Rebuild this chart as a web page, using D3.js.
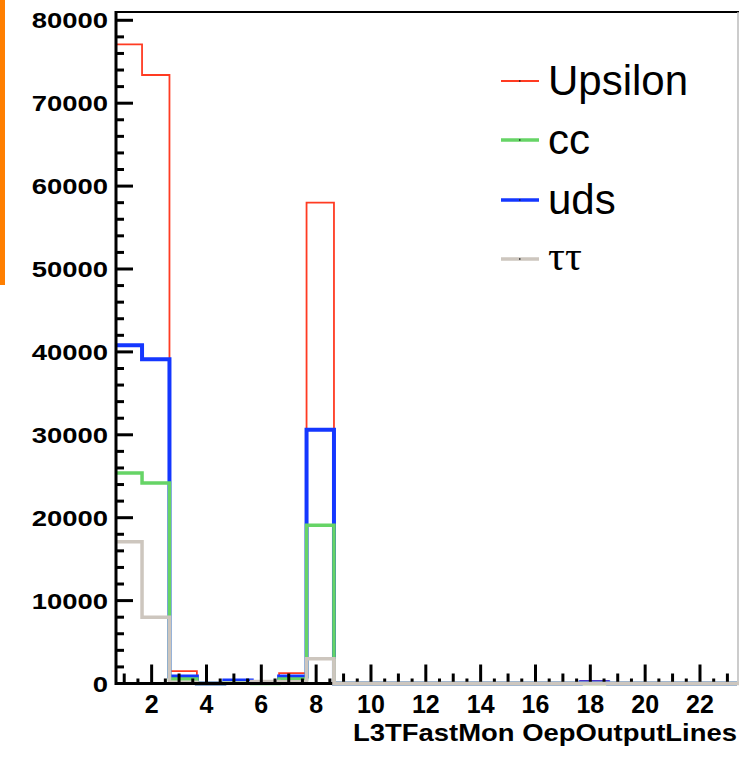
<!DOCTYPE html>
<html>
<head>
    <meta charset="utf-8">
    <style>
        body { margin: 0; background: #fff; }
        text { font-family: "Liberation Sans", Arial, sans-serif; }
    </style>
</head>
<body>
    <svg width="739" height="759"></svg>
    <script src="https://d3js.org/d3.v7.min.js"></script>
    <script>
        // bin contents, one value per unit-wide bin starting at the left edge of the axis
        let upsilon = [77100, 73400, 1500, 0, 400, 200, 1250, 58000, 0, 0, 0, 0, 0, 0, 0, 0, 0, 300, 0, 0, 0, 0, 0];
        let uds     = [40800, 39100, 850, 0, 350, 100, 850, 30600, 0, 0, 0, 0, 0, 0, 0, 0, 0, 150, 0, 0, 0, 0, 0];
        let cc      = [25400, 24200, 550, 0, 100, 0, 550, 19100, 0, 0, 0, 0, 0, 0, 0, 0, 0, 0, 0, 0, 0, 0, 0];
        let tautau  = [17100, 8000, 150, 0, 50, 250, 200, 3000, 0, 0, 0, 0, 0, 0, 0, 0, 0, 0, 0, 0, 0, 0, 0];
        let xTicks = [2, 4, 6, 8, 10, 12, 14, 16, 18, 20, 22];
        let yTicks = [0, 10000, 20000, 30000, 40000, 50000, 60000, 70000, 80000];
        let xTitle = "L3TFastMon OepOutputLines";

        let series = [
            {name: "Upsilon", values: upsilon, color: "#ff3b22", width: 1.8, font: "Liberation Sans"},
            {name: "uds", values: uds, color: "#1437ff", width: 4, font: "Liberation Sans"},
            {name: "cc", values: cc, color: "#66d466", width: 3.5, font: "Liberation Sans"},
            {name: "ττ", values: tautau, color: "#cdc6be", width: 3.5, font: "Liberation Serif"}
        ];
        let legendOrder = ["Upsilon", "cc", "uds", "ττ"];

        let svg = d3.select("svg");
        let frameL = 116, frameR = 737, frameT = 12, frameB = 683.5;
        let xStart = 0.7, xEnd = 23.35, binStart = 0.65;
        let x = d3.scaleLinear().domain([xStart, xEnd]).range([frameL, frameR]);
        let y = d3.scaleLinear().domain([0, 81000]).range([frameB, frameT]);

        // orange strip on the far left
        svg.append("rect").attr("x", 0).attr("y", 0).attr("width", 5).attr("height", 285).attr("fill", "#ff7f00");

        svg.append("clipPath").attr("id", "frame")
            .append("rect").attr("x", frameL).attr("y", frameT - 2).attr("width", frameR - frameL).attr("height", frameB - frameT + 6);

        let line = d3.line().x(d => x(d[0])).y(d => y(d[1]));
        function stepPoints(vals) {
            let pts = [[binStart, 0]];
            vals.forEach((v, i) => {
                pts.push([binStart + i, v]);
                pts.push([binStart + i + 1, v]);
            });
            pts.push([binStart + vals.length, 0]);
            return pts;
        }

        let hists = svg.append("g").attr("clip-path", "url(#frame)");
        series.forEach(s => {
            hists.append("path")
                .attr("d", line(stepPoints(s.values)))
                .attr("fill", "none")
                .attr("stroke", s.color)
                .attr("stroke-width", s.width)
                .attr("stroke-linejoin", "miter");
        });

        // frame top and right
        svg.append("line").attr("x1", frameL).attr("x2", 739).attr("y1", frameT).attr("y2", frameT)
            .attr("stroke", "#000").attr("stroke-width", 2);
        svg.append("line").attr("x1", 738).attr("x2", 738).attr("y1", frameT).attr("y2", frameB)
            .attr("stroke", "#bbb").attr("stroke-width", 1.5);

        // y axis
        let yAxis = svg.append("g");
        yAxis.append("line").attr("x1", frameL).attr("x2", frameL).attr("y1", frameT - 1).attr("y2", frameB + 1.5)
            .attr("stroke", "#000").attr("stroke-width", 3);
        d3.range(0, 80001, 2000).forEach(v => {
            let major = v % 10000 === 0;
            yAxis.append("line")
                .attr("x1", frameL).attr("x2", frameL + (major ? 17 : 8))
                .attr("y1", y(v)).attr("y2", y(v))
                .attr("stroke", "#000").attr("stroke-width", 3);
        });
        yAxis.selectAll("text.ylab").data(yTicks).enter().append("text")
            .attr("class", "ylab")
            .attr("transform", d => `translate(108,${y(d) + 8}) scale(1.22,1)`)
            .attr("text-anchor", "end")
            .attr("font-size", 22.5).attr("font-weight", "bold")
            .text(d => d);

        // x axis ticks
        let xAxis = svg.append("g");
        d3.range(1, 23.01, 0.5).forEach(v => {
            let len = v % 2 === 0 ? 19 : (v % 1 === 0 ? 10 : 5);
            xAxis.append("line")
                .attr("x1", x(v)).attr("x2", x(v))
                .attr("y1", frameB).attr("y2", frameB - len)
                .attr("stroke", "#000").attr("stroke-width", 3);
        });
        xAxis.append("line").attr("x1", frameL).attr("x2", frameR).attr("y1", frameB).attr("y2", frameB)
            .attr("stroke", "#000").attr("stroke-width", 3);
        // ττ baseline lies over the axis line
        xAxis.append("path")
            .attr("d", line(stepPoints(tautau).filter(d => d[0] > 8)))
            .attr("fill", "none").attr("stroke", "#cdc6be").attr("stroke-width", 3.5);

        xAxis.selectAll("text.xlab").data(xTicks).enter().append("text")
            .attr("class", "xlab")
            .attr("x", d => x(d)).attr("y", 713)
            .attr("text-anchor", "middle")
            .attr("font-size", 25).attr("font-weight", "bold")
            .text(d => d);
        svg.append("text")
            .attr("x", 737).attr("y", 741)
            .attr("text-anchor", "end")
            .attr("font-size", 24).attr("font-weight", "bold")
            .attr("textLength", 384).attr("lengthAdjust", "spacingAndGlyphs")
            .text(xTitle);

        // legend
        let legendRows = [81, 140, 200, 259];
        let legend = svg.append("g");
        legendOrder.forEach((name, i) => {
            let s = series.find(d => d.name === name);
            let g = legend.append("g").attr("transform", `translate(0,${legendRows[i]})`);
            g.append("line").attr("x1", 501).attr("x2", 539).attr("y1", 0).attr("y2", 0)
                .attr("stroke", s.color).attr("stroke-width", Math.min(s.width, 3.5));
            g.append("rect").attr("x", 519).attr("y", -0.7).attr("width", 1.5).attr("height", 1.4).attr("fill", "#222");
            g.append("text").attr("x", 548).attr("y", name === "ττ" ? 11 : 14)
                .attr("font-size", name === "ττ" ? 42 : 42)
                .style("font-family", s.font)
                .text(name);
        });
    </script>
</body>
</html>
